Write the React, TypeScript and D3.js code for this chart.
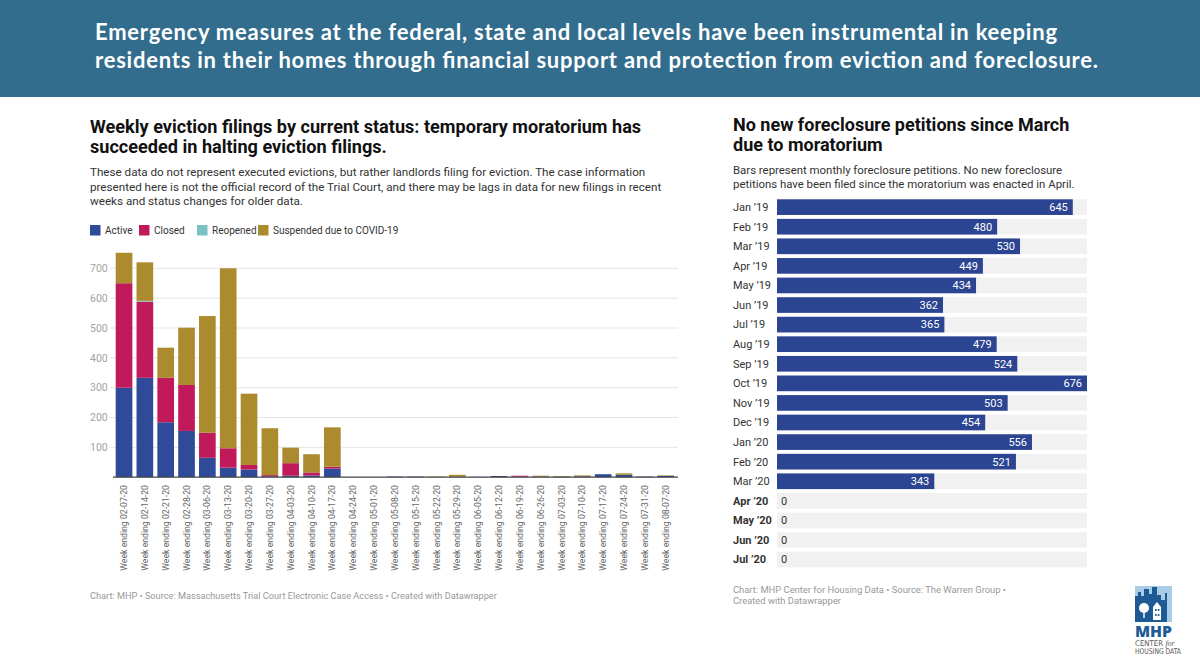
import React from "react";
import * as d3 from "d3";

// Left chart: weekly eviction filings by status
const weeks = [
  "02-07-20", "02-14-20", "02-21-20", "02-28-20", "03-06-20", "03-13-20", "03-20-20",
  "03-27-20", "04-03-20", "04-10-20", "04-17-20", "04-24-20", "05-01-20", "05-08-20",
  "05-15-20", "05-22-20", "05-29-20", "06-05-20", "06-12-20", "06-19-20", "06-26-20",
  "07-03-20", "07-10-20", "07-17-20", "07-24-20", "07-31-20", "08-07-20",
];
const active = [300, 333, 184, 155, 65, 32, 26, 3, 5, 6, 29, 0, 0, 2, 2, 0, 2, 1, 4, 2, 2, 2, 3, 10, 8, 2, 4];
const closed = [350, 255, 149, 154, 84, 65, 15, 4, 42, 10, 6, 0, 0, 0, 0, 0, 0, 0, 0, 3, 0, 0, 0, 0, 0, 0, 0];
const reopened = [0, 3, 0, 0, 0, 0, 0, 0, 0, 0, 0, 0, 0, 0, 0, 0, 0, 0, 0, 0, 0, 0, 0, 0, 0, 0, 0];
const suspended = [102, 129, 101, 192, 391, 603, 239, 157, 52, 61, 132, 0, 0, 0, 0, 2, 6, 0, 0, 0, 3, 2, 3, 0, 5, 0, 2];
const yTicks = [100, 200, 300, 400, 500, 600, 700];

const seriesKeys = ["Active", "Closed", "Reopened", "Suspended due to COVID-19"];
const seriesColors = ["#2e4a98", "#c11a5b", "#79c2c2", "#ab8b2e"];

// Right chart: monthly foreclosure petitions
const months = [
  "Jan ’19", "Feb ’19", "Mar ’19", "Apr ’19", "May ’19", "Jun ’19", "Jul ’19", "Aug ’19",
  "Sep ’19", "Oct ’19", "Nov ’19", "Dec ’19", "Jan ’20", "Feb ’20", "Mar ’20",
  "Apr ’20", "May ’20", "Jun ’20", "Jul ’20",
];
const petitions = [645, 480, 530, 449, 434, 362, 365, 479, 524, 676, 503, 454, 556, 521, 343, 0, 0, 0, 0];
const boldMonths = ["Apr ’20", "May ’20", "Jun ’20", "Jul ’20"];

const FONT = "Roboto, 'Noto Sans', sans-serif";

const App: React.FC = () => {
  const width = 1200;
  const height = 669;

  // stacked data
  const rows = weeks.map((w, i) => ({
    week: w,
    Active: active[i],
    Closed: closed[i],
    Reopened: reopened[i],
    "Suspended due to COVID-19": suspended[i],
  }));
  const stacked = d3.stack<any>().keys(seriesKeys)(rows);

  const x = d3.scaleBand().domain(weeks).range([115.7, 674]).paddingInner(0.2).paddingOuter(0);
  const y = d3.scaleLinear().domain([0, 700]).range([477.2, 268.3]);

  const yb = d3.scaleBand().domain(months).range([199.3, 567.4]).paddingInner(0.2).paddingOuter(0);
  const xb = d3.scaleLinear().domain([0, 676]).range([777, 1087]);

  const legendX = [90, 139, 197, 258];

  return (
    <svg
      width={width}
      height={height}
      viewBox={`0 0 ${width} ${height}`}
      style={{ position: "absolute", left: 0, top: 0, background: "#fff" }}
      fontFamily={FONT}
    >
      {/* Header band */}
      <rect x={0} y={0} width={width} height={97} fill="#336d8e" />
      <text x={95} y={40} fill="#fff" fontFamily="Lato, 'Open Sans', sans-serif" fontWeight={700} fontSize={22} textLength={962} lengthAdjust="spacing">
        Emergency measures at the federal, state and local levels have been instrumental in keeping
      </text>
      <text x={95} y={68} fill="#fff" fontFamily="Lato, 'Open Sans', sans-serif" fontWeight={700} fontSize={22} textLength={1003} lengthAdjust="spacing">
        residents in their homes through financial support and protection from eviction and foreclosure.
      </text>

      {/* Left chart titles */}
      <text x={90} y={133} fontSize={18.1} fontWeight={700} fill="#111">
        Weekly eviction filings by current status: temporary moratorium has
      </text>
      <text x={90} y={153} fontSize={18.1} fontWeight={700} fill="#111">
        succeeded in halting eviction filings.
      </text>
      {[
        "These data do not represent executed evictions, but rather landlords filing for eviction. The case information",
        "presented here is not the official record of the Trial Court, and there may be lags in data for new filings in recent",
        "weeks and status changes for older data.",
      ].map((t, i) => (
        <text key={i} x={90} y={176 + i * 14.5} fontSize={11.65} fill="#333">
          {t}
        </text>
      ))}

      {/* Legend */}
      {seriesKeys.map((k, i) => (
        <g key={k} transform={`translate(${legendX[i]},225)`}>
          <rect width={10.5} height={10.5} fill={seriesColors[i]} />
          <text x={15} y={9} fontSize={10} fill="#333">
            {k}
          </text>
        </g>
      ))}

      {/* Gridlines & y labels */}
      {yTicks.map((t) => (
        <g key={t}>
          <line x1={110} x2={678} y1={y(t)} y2={y(t)} stroke="#e5e5e5" strokeWidth={1} />
          <text x={90} y={y(t)} dy="0.35em" fontSize={10.5} fill="#a3a3a3">
            {t}
          </text>
        </g>
      ))}

      {/* Stacked bars */}
      {stacked.map((s, si) => (
        <g key={s.key} fill={seriesColors[si]}>
          {s.map((d, i) =>
            d[1] - d[0] > 0 ? (
              <rect
                key={i}
                x={x(weeks[i])}
                width={x.bandwidth()}
                y={y(d[1])}
                height={y(d[0]) - y(d[1])}
              />
            ) : null
          )}
        </g>
      ))}
      <line x1={113} x2={678} y1={y(0)} y2={y(0)} stroke="#444" strokeWidth={1.2} />

      {/* X labels */}
      {weeks.map((w) => {
        const cx = (x(w) || 0) + x.bandwidth() / 2;
        return (
          <text
            key={w}
            transform={`translate(${cx},485) rotate(-90)`}
            textAnchor="end"
            dy="0.35em"
            fontSize={8.7}
            fill="#666"
          >
            {`Week ending ${w}`}
          </text>
        );
      })}

      <text x={90} y={599} fontSize={9.2} fill="#999">
        Chart: MHP • Source: Massachusetts Trial Court Electronic Case Access • Created with Datawrapper
      </text>

      {/* Right chart titles */}
      <text x={733} y={131} fontSize={18} fontWeight={700} fill="#111">
        No new foreclosure petitions since March
      </text>
      <text x={733} y={151} fontSize={18} fontWeight={700} fill="#111">
        due to moratorium
      </text>
      <text x={733} y={173.5} fontSize={11.4} fill="#333">
        Bars represent monthly foreclosure petitions. No new foreclosure
      </text>
      <text x={733} y={187.5} fontSize={11.4} fill="#333">
        petitions have been filed since the moratorium was enacted in April.
      </text>

      {/* Horizontal bars */}
      {months.map((m, i) => {
        const by = yb(m) || 0;
        const bh = yb.bandwidth();
        const v = petitions[i];
        const cy = by + bh / 2;
        return (
          <g key={m}>
            <rect x={xb(0)} y={by} width={xb(676) - xb(0)} height={bh} fill="#f1f1f1" />
            {v > 0 && <rect x={xb(0)} y={by} width={xb(v) - xb(0)} height={bh} fill="#2c4592" />}
            <text
              x={733}
              y={cy}
              dy="0.35em"
              fontSize={11}
              fontWeight={boldMonths.includes(m) ? 700 : 400}
              fill="#333"
            >
              {m}
            </text>
            {v > 0 ? (
              <text x={xb(v) - 5} y={cy} dy="0.35em" textAnchor="end" fontSize={11} fill="#fff">
                {v}
              </text>
            ) : (
              <text x={xb(0) + 4} y={cy} dy="0.35em" fontSize={11} fill="#333">
                {v}
              </text>
            )}
          </g>
        );
      })}

      <text x={733} y={593} fontSize={9.4} fill="#999">
        Chart: MHP Center for Housing Data • Source: The Warren Group •
      </text>
      <text x={733} y={604} fontSize={9.4} fill="#999">
        Created with Datawrapper
      </text>

      {/* MHP logo (simplified) */}
      <g transform="translate(1135,586)">
        <rect x={0} y={0} width={37} height={36} fill="#a9cde6" />
        <path
          d="M0,36 V10 H3 V6 H6 V10 H9 V3 H14 V8 H17 V1 H22 V9 H26 V14 H30 V7 H32 V36 Z"
          fill="#1e5b95"
        />
        <circle cx={9} cy={22} r={5} fill="#fff" />
        <rect x={8.3} y={24} width={1.4} height={8} fill="#fff" />
        <path d="M18,34 V21 L22,16 L26,21 V34 Z" fill="#fff" />
        <rect x={20} y={23} width={1.6} height={2} fill="#1e5b95" />
        <rect x={22.8} y={23} width={1.6} height={2} fill="#1e5b95" />
        <rect x={20} y={28} width={1.6} height={2} fill="#1e5b95" />
        <rect x={22.8} y={28} width={1.6} height={2} fill="#1e5b95" />
        <text x={0} y={51} fontSize={15} fontWeight={800} fill="#1e5b95" fontFamily="'Open Sans', sans-serif" textLength={37} lengthAdjust="spacingAndGlyphs">
          MHP
        </text>
        <text x={0} y={59.7} fontSize={7.8} fill="#555" fontFamily="'DejaVu Sans Condensed', sans-serif">
          CENTER <tspan fontStyle="italic" fontFamily="'Liberation Serif', serif">for</tspan>
        </text>
        <text x={0} y={68} fontSize={7.8} fill="#555" fontFamily="'DejaVu Sans Condensed', sans-serif" textLength={46} lengthAdjust="spacingAndGlyphs">
          HOUSING DATA
        </text>
      </g>
    </svg>
  );
};

export default App;
